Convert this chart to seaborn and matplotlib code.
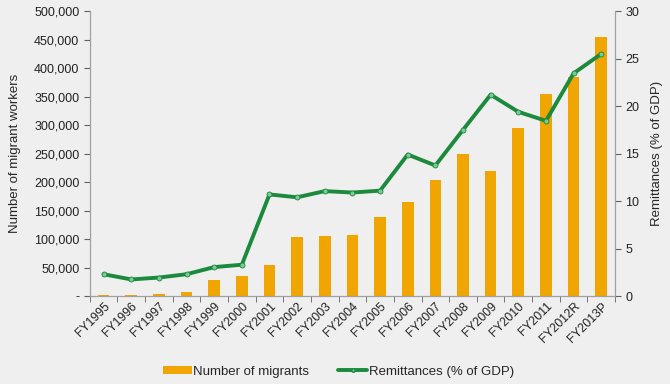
import matplotlib
matplotlib.use("Agg")
import matplotlib.pyplot as plt
import seaborn as sns
import pandas as pd
from matplotlib.patches import Patch
from matplotlib.lines import Line2D
from matplotlib.ticker import FuncFormatter

years = ["FY1995", "FY1996", "FY1997", "FY1998", "FY1999", "FY2000", "FY2001",
         "FY2002", "FY2003", "FY2004", "FY2005", "FY2006", "FY2007", "FY2008",
         "FY2009", "FY2010", "FY2011", "FY2012R", "FY2013P"]
migrants = [2000, 2000, 3800, 7600, 28000, 35000, 54500, 103500, 105000,
            107000, 138500, 164700, 203300, 248800, 219000, 294500, 354000,
            383800, 454000]
remittances = [2.3, 1.75, 1.95, 2.3, 3.05, 3.3, 10.7, 10.4, 11.05, 10.9,
               11.1, 14.9, 13.75, 17.5, 21.2, 19.4, 18.45, 23.45, 25.5]

df = pd.DataFrame({"year": years, "migrants": migrants, "remit": remittances})

sns.set_style("white")
plt.rcParams["font.family"] = ["Liberation Sans", "DejaVu Sans"]

BG = "#efefef"
ORANGE = "#f0a500"
GREEN = "#1b8a3c"
SPINE = "#a0a0a0"

fig = plt.figure(figsize=(6.7, 3.84), dpi=100, facecolor=BG)
ax = fig.add_axes([0.134, 0.229, 0.784, 0.742], facecolor=BG)
sns.barplot(data=df, x="year", y="migrants", color=ORANGE, width=0.42,
            saturation=1, edgecolor="none", linewidth=0, ax=ax)
ax.set_ylim(0, 500000)
ax.set_xlim(-0.5, len(years) - 0.5)
ax.set_yticks(range(0, 500001, 50000))
ax.yaxis.set_major_formatter(FuncFormatter(lambda v, p: "-" if v == 0 else f"{int(v):,}"))
ax.set_xlabel("")
ax.set_ylabel("Number of migrant workers", fontsize=9.5, labelpad=9)

ax2 = ax.twinx()
sns.lineplot(data=df, x="year", y="remit", color=GREEN, linewidth=2.8,
             marker="o", markersize=3.6, markerfacecolor="#7cc896",
             markeredgecolor=GREEN, markeredgewidth=0.6, ax=ax2)
ax2.set_ylim(0, 30)
ax2.set_yticks(range(0, 31, 5))
ax2.set_ylabel("Remittances (% of GDP)", fontsize=9.5, labelpad=8)
ax2.set_xlim(-0.5, len(years) - 0.5)

for a in (ax, ax2):
    a.spines["top"].set_visible(False)
    for s in ("left", "right", "bottom"):
        a.spines[s].set_color(SPINE)
        a.spines[s].set_linewidth(0.9)
ax.spines["right"].set_visible(False)
ax2.spines["left"].set_visible(False)
ax2.spines["bottom"].set_visible(False)

ax.tick_params(axis="y", which="major", direction="out", length=4, color="#606060",
               labelsize=9, labelcolor="#222222", left=True)
ax2.tick_params(axis="y", which="major", direction="out", length=4, color="#606060",
                labelsize=9, labelcolor="#222222", right=True)
ax.set_xticks(range(len(years)))
ax.set_xticks([i - 0.5 for i in range(len(years) + 1)], minor=True)
ax.tick_params(axis="x", which="major", length=0, labelsize=8.8, labelcolor="#222222", pad=3)
ax.tick_params(axis="x", which="minor", length=4, color="#606060", direction="out", bottom=True)
ax.set_xticklabels(years, rotation=45, ha="right", rotation_mode="anchor")

handles = [Patch(facecolor=ORANGE, edgecolor="none"),
           Line2D([0], [0], color=GREEN, linewidth=2.8, marker="o", markersize=2.5,
                  markerfacecolor="#7cc896", markeredgecolor=GREEN)]
fig.legend(handles, ["Number of migrants", "Remittances (% of GDP)"],
           loc="center", bbox_to_anchor=(0.505, 0.032), ncol=2, frameon=False,
           fontsize=9.5, handlelength=2.2, handleheight=0.5, handletextpad=0.1,
           columnspacing=2.2)

fig.savefig("out.png", dpi=100, facecolor=BG)
